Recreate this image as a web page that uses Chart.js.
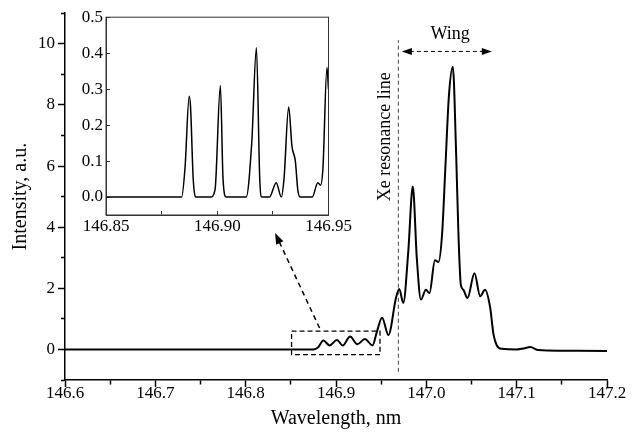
<!DOCTYPE html>
<html lang="en">
<head>
<meta charset="UTF-8">
<title>Xe resonance line wing</title>
<script src="https://cdn.jsdelivr.net/npm/chart.js"></script>
<style>
  body { margin: 0; background: #fff; }
  #wrap { position: relative; width: 640px; height: 439px; }
  #main { position: absolute; left: 0; top: 0; }
  #inset { position: absolute; left: 68px; top: 0; }
</style>
</head>
<body>
<div id="wrap">
  <canvas id="main" width="640" height="439"></canvas>
  <canvas id="inset" width="300" height="245"></canvas>
</div>
<script>
// whole spectrum (big plot)
const wavelength = [146.600, 146.875, 146.880, 146.886, 146.893, 146.901, 146.9075, 146.9156, 146.9237, 146.932,
  146.9405, 146.945, 146.951, 146.958, 146.9665, 146.970, 146.9745, 146.980, 146.985, 146.9895,
  146.994, 146.9995, 147.0035, 147.0095, 147.0135, 147.0175, 147.021, 147.025, 147.0293, 147.033,
  147.0356, 147.0382, 147.041, 147.0455, 147.0533, 147.0596, 147.065, 147.0707, 147.0743, 147.078,
  147.0836, 147.100, 147.108, 147.115, 147.124, 147.150, 147.200];
const intensity = [0, 0, 0.06, 0.29, 0.13, 0.31, 0.13, 0.42, 0.17, 0.34,
  0.13, 0.55, 1.04, 0.47, 1.7, 1.98, 1.52, 3.2, 5.33, 2.97,
  1.63, 1.95, 1.84, 2.92, 2.86, 3.8, 5.9, 8.3, 9.25, 6.4,
  3.72, 2.11, 1.95, 1.68, 2.49, 1.74, 1.95, 1.36, 0.5, 0.13,
  0.02, 0.0, 0.03, 0.08, -0.02, -0.04, -0.05];

// inset, 146.85 - 146.95 nm
const insetWavelength = [146.850, 146.884, 146.8855, 146.8874, 146.888, 146.8892, 146.8905, 146.897, 146.899, 146.9014,
  146.9026, 146.904, 146.913, 146.9155, 146.9176, 146.9191, 146.920, 146.9235, 146.9265, 146.9288,
  146.930, 146.9321, 146.9336, 146.9351, 146.9362, 146.9373, 146.9427, 146.9452, 146.9464, 146.9475,
  146.9493, 146.950];
const insetIntensity = [0, 0, 0.08, 0.28, 0.25, 0.05, 0, 0, 0.02, 0.31,
  0.05, 0, 0, 0.15, 0.415, 0.05, 0, 0, 0.04, 0,
  0.05, 0.25, 0.14, 0.10, 0.02, 0, 0, 0.04, 0.033, 0.08,
  0.36, 0.3];

// tick values
const xTicks = [146.6, 146.65, 146.7, 146.75, 146.8, 146.85, 146.9, 146.95, 147.0, 147.05, 147.1, 147.15, 147.2];
const yTicks = [-1, 0, 1, 2, 3, 4, 5, 6, 7, 8, 9, 10, 11];
const insetXTicks = [146.85, 146.875, 146.9, 146.925, 146.95];
const insetYTicks = [0, 0.1, 0.2, 0.3, 0.4, 0.5];

// annotations, in data units of the big plot
const resonanceLine = 146.969;
const resonanceSpan = [-0.73, 10.12];
const wingFrom = 146.9729, wingTo = 147.0725, wingLevel = 9.75;
const wingLabel = [147.0264, 10.3];
const resonanceLabel = [146.9544, 6.96];
const zoomBox = [146.8508, 146.9487, -0.17, 0.60];
const pointerFrom = [146.8818, 0.70], pointerTo = [146.8326, 3.81];

Chart.defaults.font.family = '"Liberation Serif", "Times New Roman", serif';
Chart.defaults.font.size = 17;
Chart.defaults.color = '#000';

const isStep = (v, step) => Math.abs(v / step - Math.round(v / step)) < 1e-6;

function arrowHead(ctx, x0, y0, x1, y1, len, half) {
  const a = Math.atan2(y1 - y0, x1 - x0);
  ctx.save();
  ctx.setLineDash([]);
  ctx.translate(x1, y1);
  ctx.rotate(a);
  ctx.beginPath();
  ctx.moveTo(0, 0);
  ctx.lineTo(-len, -half);
  ctx.lineTo(-len, half);
  ctx.closePath();
  ctx.fill();
  ctx.restore();
}

const annotations = {
  id: 'annotations',
  afterDatasetsDraw(chart) {
    const {ctx, scales: {x, y}} = chart;
    ctx.save();
    ctx.fillStyle = '#000';

    // Xe resonance line
    const xr = x.getPixelForValue(resonanceLine);
    ctx.strokeStyle = '#444';
    ctx.lineWidth = 1;
    ctx.setLineDash([4, 3]);
    ctx.beginPath();
    ctx.moveTo(xr, y.getPixelForValue(resonanceSpan[0]));
    ctx.lineTo(xr, y.getPixelForValue(resonanceSpan[1]));
    ctx.stroke();

    // wing arrow
    const wl = x.getPixelForValue(wingFrom), wr = x.getPixelForValue(wingTo), wy = y.getPixelForValue(wingLevel);
    ctx.strokeStyle = '#000';
    ctx.beginPath();
    ctx.moveTo(wl + 8, wy);
    ctx.lineTo(wr - 8, wy);
    ctx.stroke();
    arrowHead(ctx, wr, wy, wl, wy, 10, 3.5);
    arrowHead(ctx, wl, wy, wr, wy, 10, 3.5);

    // labels
    ctx.font = '18px "Liberation Serif"';
    ctx.textAlign = 'center';
    ctx.textBaseline = 'middle';
    ctx.fillText('Wing', x.getPixelForValue(wingLabel[0]), y.getPixelForValue(wingLabel[1]));
    ctx.save();
    ctx.translate(x.getPixelForValue(resonanceLabel[0]), y.getPixelForValue(resonanceLabel[1]));
    ctx.rotate(-Math.PI / 2);
    ctx.fillText('Xe resonance line', 0, 0);
    ctx.restore();

    // zoom box
    const bx0 = x.getPixelForValue(zoomBox[0]), bx1 = x.getPixelForValue(zoomBox[1]);
    const by0 = y.getPixelForValue(zoomBox[3]), by1 = y.getPixelForValue(zoomBox[2]);
    ctx.lineWidth = 1.3;
    ctx.setLineDash([5, 3]);
    ctx.strokeRect(bx0, by0, bx1 - bx0, by1 - by0);

    // pointer to inset
    const px0 = x.getPixelForValue(pointerFrom[0]), py0 = y.getPixelForValue(pointerFrom[1]);
    const px1 = x.getPixelForValue(pointerTo[0]), py1 = y.getPixelForValue(pointerTo[1]);
    ctx.lineWidth = 1.5;
    ctx.setLineDash([5, 4]);
    ctx.beginPath();
    ctx.moveTo(px0, py0);
    ctx.lineTo(px1 + (px0 - px1) * 0.1, py1 + (py0 - py1) * 0.1);
    ctx.stroke();
    arrowHead(ctx, px0, py0, px1, py1, 11, 4);
    ctx.restore();
  }
};

const frame = {
  id: 'frame',
  afterDraw(chart) {
    const {ctx, chartArea: a} = chart;
    ctx.save();
    ctx.strokeStyle = '#333';
    ctx.lineWidth = 1;
    ctx.strokeRect(a.left, a.top, a.right - a.left, a.bottom - a.top);
    ctx.restore();
  }
};

new Chart(document.getElementById('main'), {
  type: 'line',
  data: {
    datasets: [{
      data: wavelength.map((w, i) => ({x: w, y: intensity[i]})),
      borderColor: '#000',
      borderWidth: 2,
      pointRadius: 0,
      cubicInterpolationMode: 'monotone',
      fill: false
    }]
  },
  options: {
    responsive: false,
    animation: false,
    events: [],
    layout: {padding: {top: 6, right: 33, left: 0, bottom: 0}},
    plugins: {legend: {display: false}, tooltip: {enabled: false}},
    scales: {
      x: {
        type: 'linear', min: 146.6, max: 147.2,
        afterBuildTicks: s => { s.ticks = xTicks.map(v => ({value: v})); },
        afterFit: s => { s.height = 59; },
        ticks: {autoSkip: false, maxRotation: 0, padding: -4,
          callback: v => isStep(v, 0.1) ? v.toFixed(1) : ''},
        grid: {drawOnChartArea: false, tickLength: 7, tickWidth: 1.5, tickColor: '#000',
          tickBorderDash: c => isStep(c.tick.value, 0.1) ? [] : [4, 20]},
        border: {color: '#000', width: 1.5},
        title: {display: true, text: 'Wavelength, nm', font: {size: 20}, padding: {top: 0, bottom: 8}}
      },
      y: {
        min: -1, max: 11,
        afterBuildTicks: s => { s.ticks = yTicks.map(v => ({value: v})); },
        afterFit: s => { s.width = 65; },
        ticks: {autoSkip: false, padding: 3,
          callback: v => (v >= 0 && v <= 10 && isStep(v, 2)) ? String(v) : ''},
        grid: {drawOnChartArea: false, tickLength: 7, tickWidth: 1.5, tickColor: '#000',
          tickBorderDash: c => (c.tick.value >= 0 && c.tick.value <= 10 && isStep(c.tick.value, 2)) ? [] : [0, 3, 10, 10]},
        border: {color: '#000', width: 1.5},
        title: {display: true, text: 'Intensity, a.u.', font: {size: 20}, padding: {top: 9, bottom: 0}}
      }
    }
  },
  plugins: [annotations]
});

new Chart(document.getElementById('inset'), {
  type: 'line',
  data: {
    datasets: [{
      data: insetWavelength.map((w, i) => ({x: w, y: insetIntensity[i]})),
      borderColor: '#000',
      borderWidth: 1.5,
      pointRadius: 0,
      cubicInterpolationMode: 'monotone',
      fill: false
    }]
  },
  options: {
    responsive: false,
    animation: false,
    events: [],
    layout: {padding: {top: 14, right: 39.5, left: 0, bottom: 0}},
    plugins: {legend: {display: false}, tooltip: {enabled: false}},
    scales: {
      x: {
        type: 'linear', min: 146.85, max: 146.95,
        afterBuildTicks: s => { s.ticks = insetXTicks.map(v => ({value: v})); },
        afterFit: s => { s.height = 30; },
        ticks: {autoSkip: false, maxRotation: 0, padding: 5,
          callback: v => isStep(v, 0.05) ? v.toFixed(2) : ''},
        grid: {drawOnChartArea: false, tickLength: -4, tickColor: '#333',
          tickBorderDash: c => isStep(c.tick.value, 0.05) ? [] : [0, 1.5, 10, 10]},
        border: {color: '#333', width: 1}
      },
      y: {
        min: -0.05, max: 0.5,
        afterBuildTicks: s => { s.ticks = insetYTicks.map(v => ({value: v})); },
        afterFit: s => { s.width = 38; },
        ticks: {autoSkip: false, padding: 7, callback: v => v.toFixed(1)},
        grid: {drawOnChartArea: false, tickLength: -4, tickColor: '#333'},
        border: {color: '#333', width: 1}
      }
    }
  },
  plugins: [frame]
});
</script>
</body>
</html>
